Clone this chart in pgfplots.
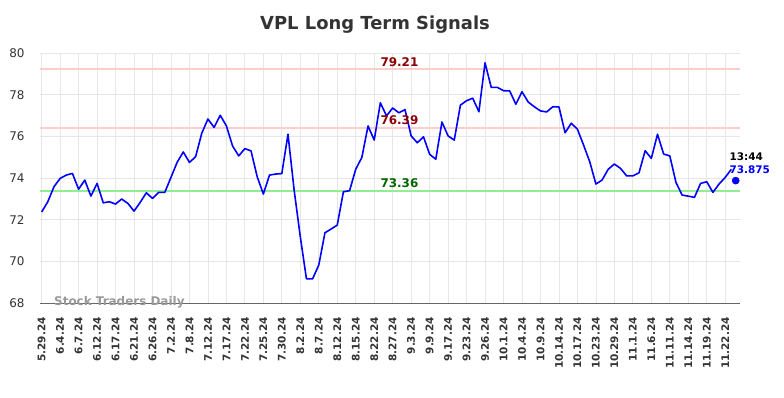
\documentclass[border=0pt]{standalone}
\usepackage{pgfplots}
\pgfplotsset{compat=1.18}
\usepackage{fontspec}
\setmainfont{DejaVu Sans}
\definecolor{gridc}{HTML}{E6E6E6}
\definecolor{resc}{HTML}{FFCCCC}
\definecolor{supc}{HTML}{90EE90}
\definecolor{dred}{HTML}{8B0000}
\definecolor{dgreen}{HTML}{006400}
\definecolor{titlec}{HTML}{333333}
\definecolor{wmc}{HTML}{999999}
\begin{document}
\begin{tikzpicture}
\useasboundingbox (0,0) rectangle (784bp,398bp);
\node[font=\fontsize{18}{20}\selectfont\bfseries, text=titlec] at (375bp,373bp) {VPL Long Term Signals};
\begin{axis}[
  at={(39.8bp,95bp)}, anchor=south west,
  width=700.2bp, height=250bp, scale only axis,
  xmin=-0.3, xmax=113.4, ymin=68, ymax=80,
  axis line style={draw=none},
  major tick length=0pt,
  grid=major, grid style={color=gridc, line width=0.8bp},
  ytick={68,70,...,80},
  xtick={0,3,...,111},
  xticklabels={5.29.24,6.4.24,6.7.24,6.12.24,6.17.24,6.21.24,6.26.24,7.2.24,7.8.24,7.12.24,7.17.24,7.22.24,7.25.24,7.30.24,8.2.24,8.7.24,8.12.24,8.15.24,8.22.24,8.27.24,9.3.24,9.9.24,9.17.24,9.23.24,9.26.24,10.1.24,10.4.24,10.9.24,10.14.24,10.17.24,10.23.24,10.29.24,11.1.24,11.6.24,11.11.24,11.14.24,11.19.24,11.22.24},
  xticklabel style={rotate=90, anchor=east, font=\fontsize{10.5}{12}\selectfont\bfseries, text=titlec, inner sep=0pt},
  xticklabel shift=14bp,
  yticklabel style={anchor=east, font=\fontsize{12}{14}\selectfont, text=titlec, xshift=-15bp, inner sep=0pt},
  /pgf/number format/assume math mode=true,
  clip=false,
]
\draw[color=gray!80!black, line width=0.8bp] (rel axis cs:0,0) -- (rel axis cs:1,0);
\addplot[color=resc, line width=2bp, forget plot] coordinates {(-0.3,79.21) (113.4,79.21)};
\addplot[color=resc, line width=2bp, forget plot] coordinates {(-0.3,76.39) (113.4,76.39)};
\addplot[color=supc, line width=2bp, forget plot] coordinates {(-0.3,73.36) (113.4,73.36)};
\addplot[color=blue, line width=1.6bp, line join=round] coordinates {
(0,72.37) (1,72.86) (2,73.58) (3,73.98) (4,74.14) (5,74.22) (6,73.46) (7,73.90) (8,73.13) (9,73.74)
(10,72.81) (11,72.86) (12,72.75) (13,72.99) (14,72.78) (15,72.41) (16,72.83) (17,73.29) (18,73.02) (19,73.31)
(20,73.31) (21,74.03) (22,74.75) (23,75.25) (24,74.75) (25,75.02) (26,76.15) (27,76.83) (28,76.43) (29,77.01)
(30,76.50) (31,75.54) (32,75.06) (33,75.41) (34,75.30) (35,74.06) (36,73.23) (37,74.14) (38,74.19) (39,74.21)
(40,76.10) (41,73.42) (42,71.18) (43,69.16) (44,69.16) (45,69.82) (46,71.37) (47,71.55) (48,71.74) (49,73.34)
(50,73.39) (51,74.42) (52,74.99) (53,76.50) (54,75.82) (55,77.61) (56,76.98) (57,77.36) (58,77.13) (59,77.28)
(60,76.02) (61,75.69) (62,75.98) (63,75.14) (64,74.90) (65,76.69) (66,76.02) (67,75.82) (68,77.50) (69,77.71)
(70,77.83) (71,77.18) (72,79.53) (73,78.35) (74,78.35) (75,78.19) (76,78.18) (77,77.54) (78,78.14) (79,77.65)
(80,77.42) (81,77.22) (82,77.17) (83,77.42) (84,77.41) (85,76.17) (86,76.63) (87,76.34) (88,75.58) (89,74.78)
(90,73.71) (91,73.90) (92,74.42) (93,74.67) (94,74.46) (95,74.10) (96,74.10) (97,74.25) (98,75.31) (99,74.94)
(100,76.10) (101,75.15) (102,75.06) (103,73.79) (104,73.18) (105,73.13) (106,73.07) (107,73.74) (108,73.82) (109,73.31)
(110,73.71) (111,74.03) (112,74.42)
};
\addplot[only marks, mark=*, mark size=3.6bp, color=blue] coordinates {(112.7,73.875)};
\node[font=\fontsize{12}{14}\selectfont\bfseries, text=dred, yshift=7.8bp] at (axis cs:58.1,79.21) {79.21};
\node[font=\fontsize{12}{14}\selectfont\bfseries, text=dred, yshift=7.6bp] at (axis cs:58.1,76.39) {76.39};
\node[font=\fontsize{12}{14}\selectfont\bfseries, text=dgreen, yshift=8bp] at (axis cs:58.1,73.36) {73.36};
\node[font=\fontsize{10.5}{12}\selectfont\bfseries, text=black, xshift=10.5bp, yshift=24bp] at (axis cs:112.7,73.875) {13:44};
\node[font=\fontsize{10.5}{12}\selectfont\bfseries, text=blue, xshift=14bp, yshift=10.7bp] at (axis cs:112.7,73.875) {73.875};
\end{axis}
\node[font=\fontsize{12}{14}\selectfont\bfseries, text=wmc, anchor=west, inner sep=0pt] at (54bp,95.5bp) {Stock Traders Daily};
\end{tikzpicture}
\end{document}
